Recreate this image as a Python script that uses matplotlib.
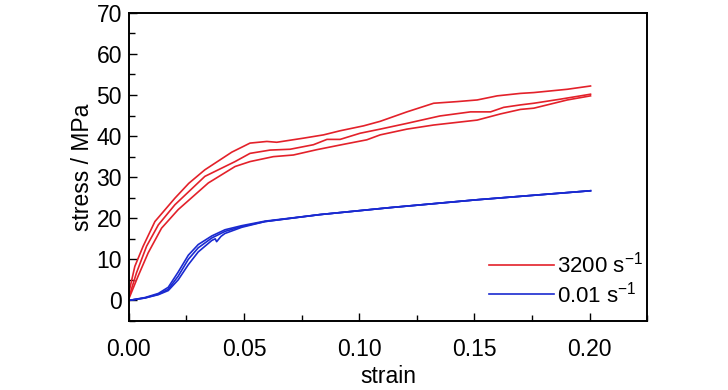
import matplotlib
matplotlib.use('Agg')
import matplotlib.pyplot as plt
from matplotlib.ticker import MultipleLocator

plt.rcParams['font.family'] = ['Liberation Sans Narrow', 'Liberation Sans', 'DejaVu Sans']
plt.rcParams['mathtext.fontset'] = 'custom'
plt.rcParams['mathtext.rm'] = 'Liberation Sans'
plt.rcParams['mathtext.it'] = 'Liberation Sans'

# --- datos (3 ensayos por velocidad) ---
strain_hi_a = [0.0, 0.0026, 0.0062, 0.0113, 0.020, 0.026, 0.033, 0.0447, 0.0526, 0.0599,
               0.0642, 0.0758, 0.0845, 0.0917, 0.1019, 0.1091, 0.1207, 0.1323, 0.1425,
               0.1512, 0.1599, 0.170, 0.1758, 0.1903, 0.2004]
stress_hi_a = [1.9, 8.3, 13.2, 19.2, 24.9, 28.5, 31.8, 36.1, 38.3, 38.7,
               38.5, 39.5, 40.3, 41.3, 42.5, 43.6, 45.9, 48.0, 48.4,
               48.8, 49.8, 50.4, 50.6, 51.4, 52.2]

strain_hi_b = [0.0, 0.0033, 0.0077, 0.0128, 0.020, 0.033, 0.0461, 0.0526, 0.0613, 0.070,
               0.0801, 0.086, 0.0917, 0.1004, 0.1091, 0.1207, 0.135, 0.1483, 0.157,
               0.1627, 0.170, 0.1758, 0.1874, 0.2004]
stress_hi_b = [0.7, 6.7, 13.2, 18.4, 23.3, 30.2, 33.8, 35.8, 36.6, 36.8,
               37.9, 39.2, 39.2, 40.7, 41.7, 43.1, 44.9, 45.9, 45.9,
               47.0, 47.6, 48.0, 49.0, 50.2]

strain_hi_c = [0.0, 0.004, 0.0084, 0.0142, 0.0214, 0.0345, 0.0461, 0.0526, 0.0627, 0.0714,
               0.0816, 0.0932, 0.1033, 0.1091, 0.1207, 0.1323, 0.1512, 0.1613, 0.170,
               0.1758, 0.1903, 0.2004]
stress_hi_c = [0.4, 5.9, 11.6, 17.6, 22.1, 28.6, 32.6, 33.8, 35.0, 35.4,
               36.7, 38.0, 39.1, 40.3, 41.7, 42.7, 43.9, 45.4, 46.5,
               46.8, 48.8, 49.8]

strain_lo_a = [0.0, 0.007, 0.0128, 0.0171, 0.0214, 0.0258, 0.0301, 0.036, 0.0417, 0.049,
               0.0591, 0.083, 0.1135, 0.151, 0.2004]
stress_lo_a = [0.0, 0.6, 1.5, 2.7, 5.9, 10.0, 12.8, 15.2, 16.8, 18.0,
               19.2, 20.9, 22.6, 24.5, 26.7]

strain_lo_b = [0.0, 0.007, 0.0128, 0.0171, 0.0214, 0.0258, 0.0301, 0.036, 0.0375, 0.0381,
               0.040, 0.0417, 0.049, 0.0591, 0.083, 0.1135, 0.151, 0.2004]
stress_lo_b = [0.0, 0.6, 1.4, 2.4, 5.0, 8.7, 11.8, 14.6, 15.0, 14.3,
               15.6, 16.3, 17.8, 19.2, 20.9, 22.6, 24.5, 26.7]

strain_lo_c = [0.0, 0.007, 0.0128, 0.0171, 0.0214, 0.0258, 0.0301, 0.036, 0.0417, 0.049,
               0.0591, 0.083, 0.1135, 0.151, 0.2004]
stress_lo_c = [0.0, 0.7, 1.7, 3.2, 6.9, 11.0, 13.6, 15.7, 17.2, 18.2,
               19.3, 20.9, 22.6, 24.5, 26.7]

ROJO, AZUL = '#e3212a', '#1a2ad0'

fig = plt.figure(figsize=(7.28, 3.9), dpi=100)
ax = fig.add_axes([0.177, 0.177, 0.712, 0.790])

for x, y in ((strain_hi_a, stress_hi_a), (strain_hi_b, stress_hi_b), (strain_hi_c, stress_hi_c)):
    ax.plot(x, y, color=ROJO, lw=1.2)
for x, y in ((strain_lo_a, stress_lo_a), (strain_lo_b, stress_lo_b), (strain_lo_c, stress_lo_c)):
    ax.plot(x, y, color=AZUL, lw=1.2)

# entradas de leyenda
l1, = ax.plot([], [], color=ROJO, lw=1.2)
l2, = ax.plot([], [], color=AZUL, lw=1.2)
ax.legend([l1, l2], ['3200 s$^{\\mathregular{-1}}$', '0.01 s$^{\\mathregular{-1}}$'],
          loc='lower right', bbox_to_anchor=(1.03, -0.02), frameon=False,
          fontsize=16, handlelength=2.9, handletextpad=0.15, labelspacing=0.15)

ax.set_xlim(0, 0.225)
ax.set_ylim(-5, 70)
ax.xaxis.set_major_locator(MultipleLocator(0.05))
ax.xaxis.set_minor_locator(MultipleLocator(0.025))
ax.yaxis.set_major_locator(MultipleLocator(10))
ax.yaxis.set_minor_locator(MultipleLocator(5))
ax.xaxis.set_major_formatter(plt.FuncFormatter(lambda v, p: f'{v:.2f}'))
ax.tick_params(which='both', direction='in', labelsize=16.5)
ax.tick_params(which='major', length=6, width=1)
ax.tick_params(which='minor', length=4, width=1)
ax.tick_params(axis='x', pad=12)
ax.tick_params(axis='y', pad=5)
for sp in ax.spines.values():
    sp.set_linewidth(1.4)

ax.set_xlabel('strain', fontsize=16.5, labelpad=3)
ax.set_ylabel('stress / MPa', fontsize=16.5, labelpad=2)

fig.savefig('out.png', dpi=100)
